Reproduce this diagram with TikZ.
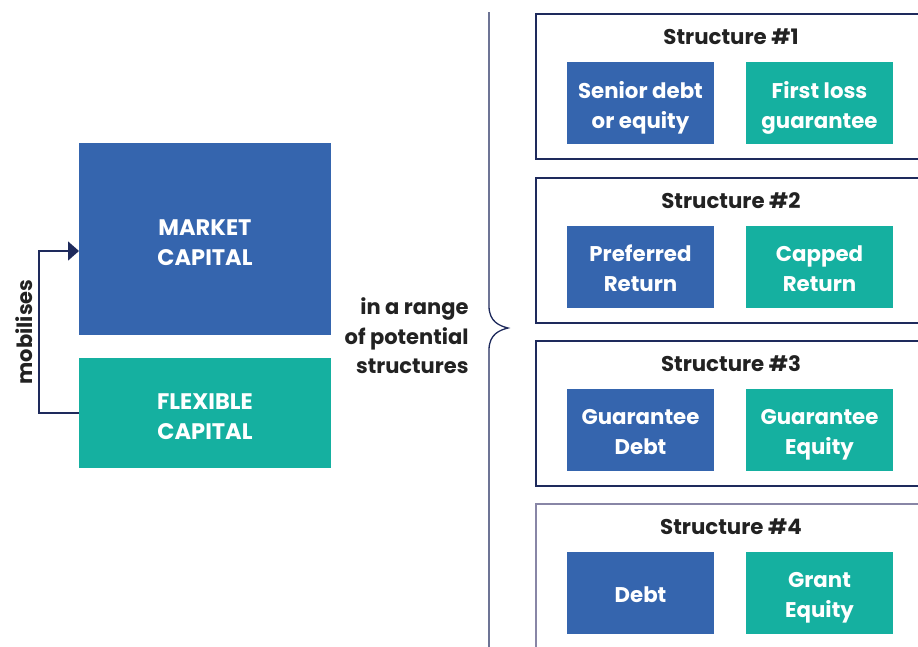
\documentclass[tikz,border=0pt]{standalone}
\usepackage{fontspec}
\setmainfont{Poppins}
\usetikzlibrary{arrows.meta}
\definecolor{mblue}{HTML}{3565AE}
\definecolor{mteal}{HTML}{15B0A0}
\definecolor{navy}{HTML}{1E2A5C}
\definecolor{dtext}{HTML}{222222}
\definecolor{lframe}{HTML}{8886A6}
\tikzset{
  bigbox/.style={draw=none, minimum width=252pt, text=white, font=\fontsize{22.5}{30}\selectfont\bfseries, align=center},
  inbox/.style={draw=none, minimum width=147pt, minimum height=82pt, text=white, font=\fontsize{21.3}{30}\selectfont\bfseries, align=center},
  frame/.style={draw=navy, line width=1.3pt},
  title/.style={text=dtext, font=\fontsize{21.3}{24}\selectfont\bfseries},
  lbl/.style={text=dtext, font=\fontsize{21}{29.5}\selectfont\bfseries}
}
\begin{document}
\begin{tikzpicture}[x=1pt,y=-1pt]
\useasboundingbox (0,0) rectangle (918,646);
% left
\node[bigbox, fill=mblue, minimum height=192pt] (market) at (205,239) {};
\node[bigbox] (mtext) at (205,243) {MARKET\\CAPITAL};
\node[bigbox, fill=mteal, minimum height=110pt] (flex) at (205,413) {};
\node[bigbox] (ftext) at (205,417) {FLEXIBLE\\CAPITAL};
\coordinate (c1) at (39,413);
\coordinate (c2) at (39,251);
\coordinate (mt) at (79,251);
\draw[navy, line width=1.5pt, -{Triangle[length=11pt,width=19pt]}] (flex.west) -- (c1) -- (c2) -- (mt);
\node[lbl, rotate=90] (mob) at (24,332) {mobilises};
% middle text
\node[lbl, anchor=east, align=right] (rng) at (472,336) {in a range\\of potential\\structures};
% brace
\coordinate (b0) at (489,12);
\coordinate (b1) at (489,650);
\coordinate (tip) at (508,328);
\draw[navy, line width=1.3pt] (b0) -- (489,306) .. controls (489,322) and (500,326) .. (tip)
  .. controls (500,330) and (489,334) .. (489,350) -- (b1);
% structures
\foreach \i/\top/\bot/\a/\b/\fc in {1/14/159/{Senior debt\\or equity}/{First loss\\guarantee}/navy,
                                   2/178/323/{Preferred\\Return}/{Capped\\Return}/navy,
                                   3/341/486/{Guarantee\\Debt}/{Guarantee\\Equity}/navy,
                                   4/504/660/{Debt}/{Grant\\Equity}/lframe}{
  \draw[frame, draw=\fc] (536,\top) rectangle (930,\bot);
  \node[title] (t\i) at (731,\top+23) {Structure \#\i};
  \node[inbox, fill=mblue] (a\i) at (640.5,\top+88.5) {};
  \node[inbox] (at\i) at (640.5,\top+93.5) {\a\vphantom{gA}};
  \node[inbox, fill=mteal] (g\i) at (819.5,\top+88.5) {};
  \node[inbox] (gt\i) at (819.5,\top+93.5) {\b\vphantom{gA}};
}
\end{tikzpicture}
\end{document}
